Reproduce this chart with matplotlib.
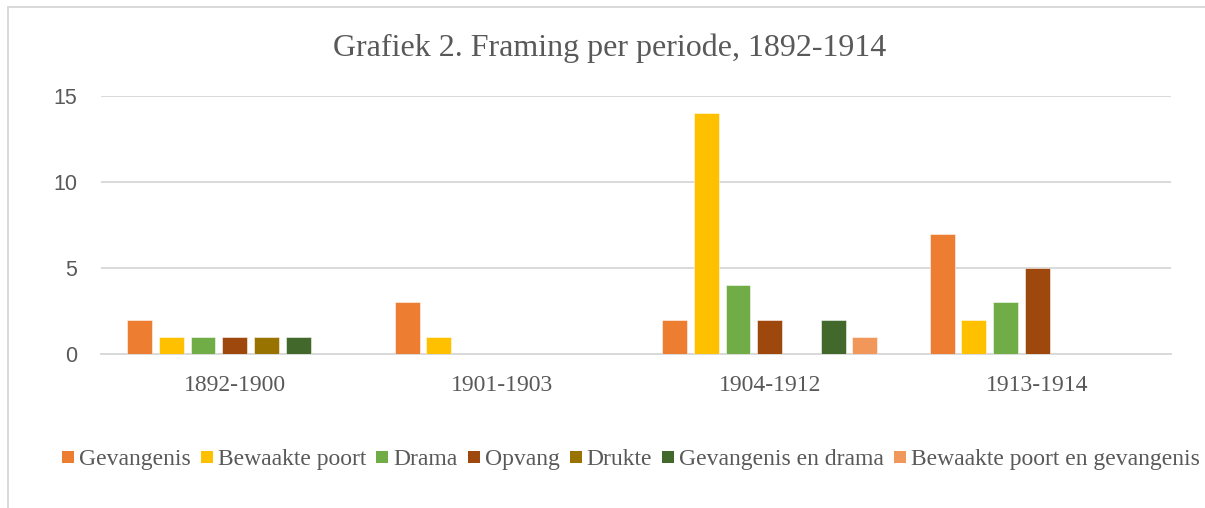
import matplotlib
matplotlib.use('Agg')
import matplotlib.pyplot as plt
from matplotlib.lines import Line2D
from matplotlib.patches import Rectangle
import numpy as np

# Periodes en aantallen per framing
periodes = ['1892-1900', '1901-1903', '1904-1912', '1913-1914']
reeksen = ['Gevangenis', 'Bewaakte poort', 'Drama', 'Opvang', 'Drukte',
           'Gevangenis en drama', 'Bewaakte poort en gevangenis']
gevangenis = [2, 3, 2, 7]
bewaakte_poort = [1, 1, 14, 2]
drama = [1, 0, 4, 3]
opvang = [1, 0, 2, 5]
drukte = [1, 0, 0, 0]
gevangenis_drama = [1, 0, 2, 0]
poort_gevangenis = [0, 0, 1, 0]
yticks = [0, 5, 10, 15]

waarden = [gevangenis, bewaakte_poort, drama, opvang, drukte,
           gevangenis_drama, poort_gevangenis]
kleuren = ['#ED7D31', '#FFC000', '#70AD47', '#9E480E', '#997300',
           '#43682B', '#F1975A']

serif = ['Liberation Serif', 'DejaVu Serif']
sans = ['Liberation Sans', 'DejaVu Sans']
tekstkleur = '#595959'
W, H = 1205, 508

fig = plt.figure(figsize=(W / 100, H / 100), dpi=100)
ax = fig.add_axes([0.0838, 0.3031, 0.888, 0.5079])

x = np.arange(len(periodes))
stap = 0.1185
breedte = 0.093
for i, (naam, vals, kleur) in enumerate(zip(reeksen, waarden, kleuren)):
    pos = x + (i - 3) * stap
    h = np.array(vals, dtype=float)
    # nulwaarden niet tekenen, zoals in Excel
    mask = h > 0
    ax.bar(pos[mask], h[mask], width=breedte, color=kleur,
           edgecolor=(1, 1, 1, 0.6), linewidth=0.6, zorder=3)

ax.set_xlim(-0.5, 3.5)
ax.set_ylim(0, 15)
ax.set_yticks(yticks)
ax.yaxis.grid(True, color='#D9D9D9', linewidth=1.4, zorder=0)
ax.set_axisbelow(True)
for s in ['top', 'right', 'left', 'bottom']:
    ax.spines[s].set_visible(False)
ax.axhline(0, color='#D9D9D9', linewidth=1.4, zorder=2, clip_on=False)
ax.tick_params(axis='both', length=0)
ax.tick_params(axis='y', pad=17)
ax.tick_params(axis='x', pad=15)
ax.set_xticks(x)
ax.set_xticklabels(periodes, family=serif, fontsize=17, color=tekstkleur)
for lbl in ax.get_yticklabels():
    lbl.set_family(sans)
    lbl.set_fontsize(15.5)
    lbl.set_color(tekstkleur)

fig.text(0.506, 1 - 48 / H, 'Grafiek 2. Framing per periode, 1892-1914',
         ha='center', va='center', family=serif, fontsize=23, color=tekstkleur)

# legenda op één basislijn, handmatig opgebouwd
renderer = fig.canvas.get_renderer()
basis = 1 - 465 / H
blok = 12
tussen_blok_tekst = 5
tussen_items = 10
teksten = []
breedtes = []
for naam in reeksen:
    t = fig.text(0, basis, naam, ha='left', va='baseline', family=serif,
                 fontsize=17, color=tekstkleur)
    teksten.append(t)
    breedtes.append(t.get_window_extent(renderer).width)
totaal = sum(breedtes) + len(reeksen) * (blok + tussen_blok_tekst) \
    + (len(reeksen) - 1) * tussen_items
xpix = 631 - totaal / 2
for t, b, kleur in zip(teksten, breedtes, kleuren):
    fig.add_artist(Rectangle((xpix / W, basis + 2 / H), blok / W, blok / H,
                             facecolor=kleur, edgecolor='none',
                             transform=fig.transFigure))
    xpix += blok + tussen_blok_tekst
    t.set_x(xpix / W)
    xpix += b + tussen_items

# kader van de grafiek
fig.add_artist(Line2D([8 / W, 8 / W], [0, 1 - 7 / H],
                      color='#D9D9D9', linewidth=1.4))
fig.add_artist(Line2D([8 / W, 1], [1 - 7 / H, 1 - 7 / H],
                      color='#D9D9D9', linewidth=1.4))

fig.savefig('out.png', dpi=100, facecolor='white')
